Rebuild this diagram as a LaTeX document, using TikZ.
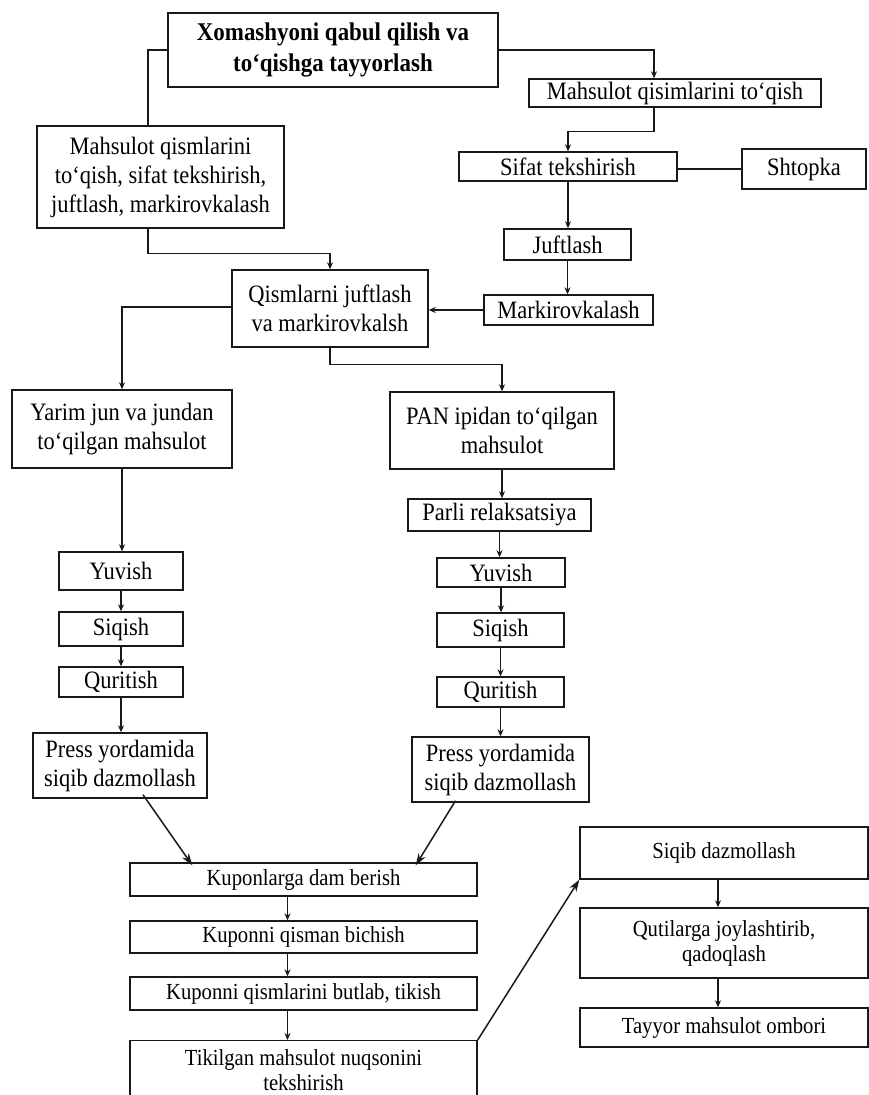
\documentclass[tikz,border=0pt]{standalone}
\usepackage{fontspec}
\setmainfont{Liberation Serif}[FakeStretch=0.9]
\usetikzlibrary{arrows.meta,calc}
\begin{document}
\begin{tikzpicture}[x=1pt,y=-1pt,
  box/.style={draw=black!90,line width=1.4pt,inner sep=0pt,align=center,
    font=\fontsize{25}{29}\selectfont},
  lowbox/.style={box,font=\fontsize{23}{25}\selectfont},
  arr/.style={line width=1.2pt,draw=black!90,-{Stealth[length=7pt,width=6pt]}},
  arrB/.style={line width=1.5pt,draw=black!90,-{Stealth[length=12pt,width=8pt]}},
  ln/.style={line width=1.2pt,draw=black!90}]
\useasboundingbox (0,0) rectangle (869,1095);
% nodes
\node[box,minimum width=330pt,minimum height=74pt,font=\fontsize{25.5}{31}\selectfont\bfseries] (top) at (333,50) {Xomashyoni qabul qilish va\\to‘qishga tayyorlash};
\node[box,minimum width=247pt,minimum height=102pt] (m1) at (160.5,177) {Mahsulot qismlarini\\to‘qish, sifat tekshirish,\\juftlash, markirovkalash};
\node[box,minimum width=292pt,minimum height=28pt] (mq) at (675,93) {Mahsulot qisimlarini to‘qish};
\node[box,minimum width=218pt,minimum height=29pt] (sifat) at (568,166.5) {Sifat tekshirish};
\node[box,minimum width=124pt,minimum height=40pt] (shtopka) at (804,169) {Shtopka};
\node[box,minimum width=127pt,minimum height=31pt] (juft) at (567.5,244.5) {Juftlash};
\node[box,minimum width=169pt,minimum height=30pt] (mark) at (568.5,310) {Markirovkalash};
\node[box,minimum width=196pt,minimum height=77pt] (qism) at (330,308.5) {Qismlarni juftlash\\va markirovkalsh};
\node[box,minimum width=220pt,minimum height=78pt] (yarim) at (122,429) {Yarim jun va jundan\\to‘qilgan mahsulot};
\node[box,minimum width=224pt,minimum height=77pt] (pan) at (502,430.5) {PAN ipidan to‘qilgan\\mahsulot};
\node[box,minimum width=183pt,minimum height=32pt] (parli) at (499.5,515) {Parli relaksatsiya};
\node[box,minimum width=128pt,minimum height=29pt] (yuvR) at (501,572.5) {Yuvish};
\node[box,minimum width=127pt,minimum height=34pt] (siqR) at (500.5,630) {Siqish};
\node[box,minimum width=127pt,minimum height=30pt] (qurR) at (500.5,692) {Quritish};
\node[box,minimum width=177pt,minimum height=65pt] (pressR) at (500.5,769.5) {Press yordamida\\siqib dazmollash};
\node[box,minimum width=124pt,minimum height=38pt] (yuvL) at (121,571) {Yuvish};
\node[box,minimum width=124pt,minimum height=34pt] (siqL) at (121,629) {Siqish};
\node[box,minimum width=124pt,minimum height=30pt] (qurL) at (121,682) {Quritish};
\node[box,minimum width=174pt,minimum height=65pt] (pressL) at (120,765.5) {Press yordamida\\siqib dazmollash};
\node[lowbox,minimum width=347pt,minimum height=33pt] (kup1) at (303.5,879.5) {Kuponlarga dam berish};
\node[lowbox,minimum width=347pt,minimum height=32pt] (kup2) at (303.5,937) {Kuponni qisman bichish};
\node[lowbox,minimum width=347pt,minimum height=33pt] (kup3) at (303.5,993.5) {Kuponni qismlarini butlab, tikish};
\node[lowbox,minimum width=347pt,minimum height=58pt,anchor=north] (tik) at (303.5,1040) {Tikilgan mahsulot nuqsonini\\tekshirish};
\node[lowbox,minimum width=288pt,minimum height=52pt] (siqib) at (724,853) {Siqib dazmollash};
\node[lowbox,minimum width=288pt,minimum height=70pt] (quti) at (724,943) {Qutilarga joylashtirib,\\qadoqlash};
\node[lowbox,minimum width=288pt,minimum height=39pt] (tayyor) at (724,1027.5) {Tayyor mahsulot ombori};
% connectors
\coordinate (c1) at (148,50);
\draw[ln] (top.west) -- (c1) -- (c1 |- m1.north);
\draw[arr] (top.east) -| ([xshift=-21pt]mq.north);
\draw[arr] ([xshift=-21pt]mq.south) -- ++(0,24) -| (sifat.north);
\draw[ln] (shtopka.west) -- (shtopka.west -| sifat.east);
\draw[arr] (sifat.south) -- (sifat.south |- juft.north);
\draw[arr] (juft.south) -- (juft.south |- mark.north);
\draw[arr] (mark.west) -- (mark.west -| qism.east);
\draw[arr] ([xshift=-12.5pt]m1.south) -- ++(0,25) -| (qism.north);
\draw[arr] ([yshift=1.5pt]qism.west) -| (yarim.north);
\draw[arr] (qism.south) -- ++(0,17) -| (pan.north);
\draw[arr] (pan.south) -- (pan.south |- parli.north);
\draw[arr] (parli.south) -- (parli.south |- yuvR.north);
\draw[arr] (yuvR.south) -- (yuvR.south |- siqR.north);
\draw[arr] (siqR.south) -- (siqR.south |- qurR.north);
\draw[arr] (qurR.south) -- (qurR.south |- pressR.north);
\draw[arr] (yarim.south) -- (yarim.south |- yuvL.north);
\draw[arr] (yuvL.south) -- (yuvL.south |- siqL.north);
\draw[arr] (siqL.south) -- (siqL.south |- qurL.north);
\draw[arr] (qurL.south) -- (qurL.south |- pressL.north);
\draw[arrB] ([xshift=23pt,yshift=4pt]pressL.south) -- ([xshift=63pt,yshift=-3pt]kup1.north west);
\draw[arrB] ([xshift=-45pt,yshift=2pt]pressR.south) -- ([xshift=-62pt,yshift=-3pt]kup1.north east);
\draw[arr] ([xshift=-16pt]kup1.south) -- ([xshift=-16pt]kup2.north);
\draw[arr] ([xshift=-16pt]kup2.south) -- ([xshift=-16pt]kup3.north);
\draw[arr] ([xshift=-16pt]kup3.south) -- ([xshift=-16pt]tik.north);
\draw[arrB] (tik.north east) -- (siqib.south west);
\draw[arr] ([xshift=-6pt]siqib.south) -- ([xshift=-6pt]quti.north);
\draw[arr] ([xshift=-6pt]quti.south) -- ([xshift=-6pt]tayyor.north);
\end{tikzpicture}
\end{document}
